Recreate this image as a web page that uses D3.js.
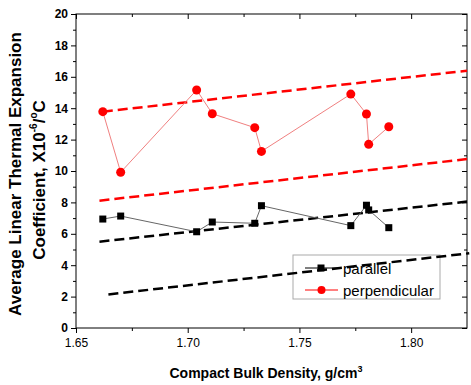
<!DOCTYPE html>
<html>
<head>
<meta charset="utf-8">
<script src="https://cdn.jsdelivr.net/npm/d3@7"></script>
<style>
  body { margin: 0; background: #fff; }
  svg { font-family: Arial, "Liberation Sans", sans-serif; }
</style>
</head>
<body>
<div id="chart"></div>
<script>
// density values, g/cm3 (same for both series)
var density = [1.662, 1.670, 1.704, 1.711, 1.730, 1.733, 1.773, 1.780, 1.781, 1.790];
var parallel = [6.94, 7.13, 6.13, 6.75, 6.67, 7.79, 6.52, 7.82, 7.52, 6.39];
var perpendicular = [13.78, 9.92, 15.16, 13.65, 12.76, 11.25, 14.9, 13.63, 11.7, 12.82];

// dashed bound lines: [x1, y1, x2, y2]
var redUpper = [1.662, 13.78, 1.825, 16.39];
var redLower = [1.6605, 8.11, 1.825, 10.76];
var blackUpper = [1.6605, 5.5, 1.825, 8.05];
var blackLower = [1.6645, 2.14, 1.826, 4.76];

var xTicks = [1.65, 1.70, 1.75, 1.80];
var yTicks = [0, 2, 4, 6, 8, 10, 12, 14, 16, 18, 20];

var W = 471, H = 385;
var svg = d3.select("#chart").append("svg")
  .attr("width", W)
  .attr("height", H);

var x = d3.scaleLinear().domain([1.65, 1.825]).range([76, 467]);
var y = d3.scaleLinear().domain([0, 20]).range([328, 14]);

var xMinor = d3.range(1.675, 1.825, 0.05);
var yMinor = d3.range(1, 20, 2);

// axes
function noDomain(g) { g.select(".domain").remove(); }

svg.append("g")
  .attr("transform", "translate(0,328)")
  .call(d3.axisBottom(x).tickValues(xTicks).tickFormat(d3.format(".2f")).tickSize(5).tickPadding(5))
  .call(noDomain)
  .call(function(g) {
    g.selectAll("text").attr("font-size", 12).attr("fill", "#000").attr("font-family", "Arial, Liberation Sans");
  });
svg.append("g")
  .attr("transform", "translate(0,328)")
  .call(d3.axisBottom(x).tickValues(xMinor).tickFormat("").tickSize(3))
  .call(noDomain);

svg.append("g")
  .attr("transform", "translate(0,14)")
  .call(d3.axisBottom(x).tickValues(xTicks).tickFormat("").tickSize(5))
  .call(noDomain);
svg.append("g")
  .attr("transform", "translate(0,14)")
  .call(d3.axisBottom(x).tickValues(xMinor).tickFormat("").tickSize(3))
  .call(noDomain);

svg.append("g")
  .attr("transform", "translate(76,0)")
  .call(d3.axisLeft(y).tickValues(yTicks).tickSize(5).tickPadding(3))
  .call(noDomain)
  .call(function(g) {
    g.selectAll("text").attr("font-size", 12).attr("font-weight", "bold").attr("fill", "#000").attr("font-family", "Arial, Liberation Sans");
  });
svg.append("g")
  .attr("transform", "translate(76,0)")
  .call(d3.axisLeft(y).tickValues(yMinor).tickFormat("").tickSize(3))
  .call(noDomain);

svg.append("g")
  .attr("transform", "translate(467,0)")
  .call(d3.axisLeft(y).tickValues(yTicks).tickFormat("").tickSize(5))
  .call(noDomain);
svg.append("g")
  .attr("transform", "translate(467,0)")
  .call(d3.axisLeft(y).tickValues(yMinor).tickFormat("").tickSize(3))
  .call(noDomain);

svg.selectAll(".tick line").attr("stroke", "#000");

svg.append("rect")
  .attr("x", 76).attr("y", 14)
  .attr("width", 391).attr("height", 314)
  .attr("fill", "none")
  .attr("stroke", "#000")
  .attr("stroke-width", 1);

// axis titles
var xt = svg.append("text")
  .attr("x", 266).attr("y", 378)
  .attr("text-anchor", "middle")
  .attr("font-size", 14).attr("font-weight", "bold");
xt.append("tspan").text("Compact Bulk Density, g/cm");
xt.append("tspan").attr("font-size", 9).attr("dy", -6).text("3");

var yt = svg.append("g").attr("transform", "translate(20.5,174) rotate(-90)");
yt.append("text")
  .attr("text-anchor", "middle")
  .attr("font-size", 17).attr("font-weight", "bold")
  .text("Average Linear Thermal Expansion");
var yt2 = svg.append("g").attr("transform", "translate(44.5,180) rotate(-90)")
  .append("text")
  .attr("text-anchor", "middle")
  .attr("font-size", 17).attr("font-weight", "bold");
yt2.append("tspan").text("Coefficient, X10");
yt2.append("tspan").attr("font-size", 10).attr("dy", -8).text("-6");
yt2.append("tspan").attr("font-size", 17).attr("dy", 8).text("/");
yt2.append("tspan").attr("font-size", 10).attr("dy", -8).text("o");
yt2.append("tspan").attr("font-size", 17).attr("dy", 8).text("C");

// legend (drawn below the dashed lines)
var leg = svg.append("g");
leg.append("rect")
  .attr("x", 293).attr("y", 255).attr("width", 147).attr("height", 44)
  .attr("fill", "#fff").attr("stroke", "#aaa").attr("stroke-width", 1);
leg.append("line").attr("x1", 305).attr("x2", 338).attr("y1", 268).attr("y2", 268)
  .attr("stroke", "#000").attr("stroke-width", 1);
leg.append("rect").attr("x", 317.5).attr("y", 264.5).attr("width", 7).attr("height", 7).attr("fill", "#000");
leg.append("text").attr("x", 343).attr("y", 273.5).attr("font-size", 15).text("parallel");
leg.append("line").attr("x1", 305).attr("x2", 338).attr("y1", 290).attr("y2", 290)
  .attr("stroke", "#f00").attr("stroke-width", 1);
leg.append("circle").attr("cx", 321.5).attr("cy", 290).attr("r", 4).attr("fill", "#f00");
leg.append("text").attr("x", 343).attr("y", 295.5).attr("font-size", 15).text("perpendicular");

// dashed bounds
function dashed(seg, color) {
  svg.append("line")
    .attr("x1", x(seg[0])).attr("y1", y(seg[1]))
    .attr("x2", x(seg[2])).attr("y2", y(seg[3]))
    .attr("stroke", color)
    .attr("stroke-width", 2.5)
    .attr("stroke-dasharray", "10,5");
}
dashed(redUpper, "#f00");
dashed(redLower, "#f00");
dashed(blackUpper, "#000");
dashed(blackLower, "#000");

// series
var line = d3.line()
  .x(function(d) { return x(d[0]); })
  .y(function(d) { return y(d[1]); });

var parData = d3.zip(density, parallel);
var perData = d3.zip(density, perpendicular);

svg.append("path").datum(parData)
  .attr("d", line).attr("fill", "none")
  .attr("stroke", "#666").attr("stroke-width", 1);
svg.selectAll(".sq").data(parData).enter().append("rect")
  .attr("class", "sq")
  .attr("x", function(d) { return x(d[0]) - 3.5; })
  .attr("y", function(d) { return y(d[1]) - 3.5; })
  .attr("width", 7).attr("height", 7)
  .attr("fill", "#000");

svg.append("path").datum(perData)
  .attr("d", line).attr("fill", "none")
  .attr("stroke", "#f08080").attr("stroke-width", 1);
svg.selectAll(".dot").data(perData).enter().append("circle")
  .attr("class", "dot")
  .attr("cx", function(d) { return x(d[0]); })
  .attr("cy", function(d) { return y(d[1]); })
  .attr("r", 4.5)
  .attr("fill", "#f00");
</script>
</body>
</html>
